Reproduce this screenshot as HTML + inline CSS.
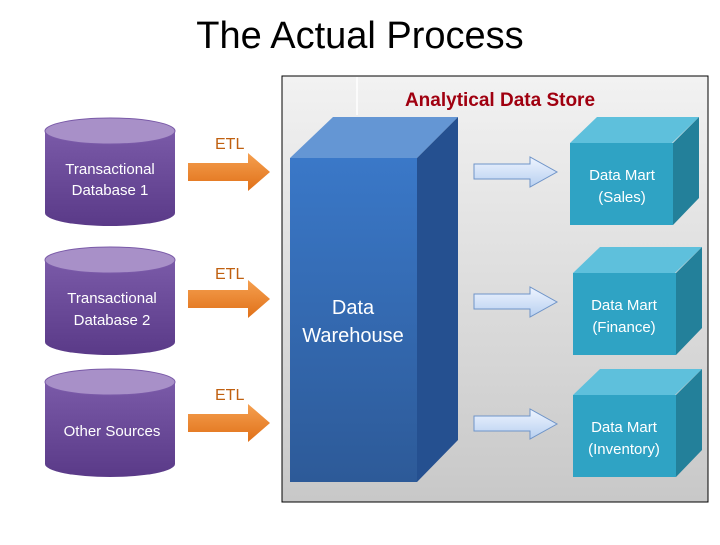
<!DOCTYPE html>
<html><head><meta charset="utf-8"><style>
body{margin:0;width:720px;height:540px;background:#fff;overflow:hidden;font-family:"Liberation Sans",sans-serif}
</style></head><body>
<svg width="720" height="540" viewBox="0 0 720 540" font-family="Liberation Sans, sans-serif">
<defs>
<linearGradient id="pg" x1="0" y1="0" x2="0" y2="1"><stop offset="0" stop-color="#f2f2f2"/><stop offset="1" stop-color="#c8c8c8"/></linearGradient>
<linearGradient id="wf" x1="0" y1="0" x2="0" y2="1"><stop offset="0" stop-color="#3a78c8"/><stop offset="1" stop-color="#2d5a98"/></linearGradient>
<linearGradient id="cy" x1="0" y1="0" x2="0" y2="1"><stop offset="0" stop-color="#7a5aa8"/><stop offset="1" stop-color="#5a3a88"/></linearGradient>
<linearGradient id="ba" x1="0" y1="0" x2="0" y2="1"><stop offset="0" stop-color="#eef4ff"/><stop offset="1" stop-color="#b8d0f0"/></linearGradient>
<linearGradient id="oa" x1="0" y1="0" x2="0" y2="1"><stop offset="0" stop-color="#f5a050"/><stop offset="1" stop-color="#e07018"/></linearGradient>
<g id="cyl"><path d="M45,13 L45,95 A65,13 0 0 0 175,95 L175,13 Z" fill="url(#cy)"/><ellipse cx="110" cy="13" rx="65" ry="13" fill="#a890c8" stroke="#7a5aa8"/></g>
<g id="mart"><polygon points="0,26 27,0 129,0 102,26" fill="#5ec0dc"/><polygon points="103,26 129,0 129,81 103,108" fill="#23809a"/><rect x="0" y="26" width="103" height="82" fill="#2fa3c4"/></g>
<g id="oarr"><polygon points="188,5 248,5 248,-5 270,14 248,33 248,23 188,23" fill="url(#oa)"/></g>
<g id="barr"><polygon points="474,7 530,7 530,0 557,15 530,30 530,22 474,22" fill="url(#ba)" stroke="#6f94c8"/></g>
</defs>
<text x="360" y="48" text-anchor="middle" font-size="38" fill="#000">The Actual Process</text>
<rect x="282" y="76" width="426" height="426" fill="url(#pg)" stroke="#000"/>
<line x1="357" y1="77" x2="357" y2="115" stroke="#fff" stroke-width="1.5"/>
<text x="500" y="106" text-anchor="middle" font-size="19" font-weight="bold" fill="#a00010">Analytical Data Store</text>
<polygon points="290,158 333,117 458,117 417,158" fill="#6496d4"/>
<polygon points="417,158 458,117 458,440 417,482" fill="#255090"/>
<rect x="290" y="158" width="127" height="324" fill="url(#wf)"/>
<text x="353" y="314" text-anchor="middle" font-size="20" fill="#fff">Data</text>
<text x="353" y="342" text-anchor="middle" font-size="20" fill="#fff">Warehouse</text>
<use href="#mart" x="570" y="117"/>
<use href="#mart" x="573" y="247"/>
<use href="#mart" x="573" y="369"/>
<g fill="#fff" font-size="15" text-anchor="middle">
<text x="622" y="180">Data Mart</text><text x="622" y="202">(Sales)</text>
<text x="624" y="310">Data Mart</text><text x="624" y="332">(Finance)</text>
<text x="624" y="432">Data Mart</text><text x="624" y="454">(Inventory)</text>
</g>
<use href="#barr" y="157"/><use href="#barr" y="287"/><use href="#barr" y="409"/>
<use href="#cyl" y="118"/><use href="#cyl" y="247"/><use href="#cyl" y="369"/>
<g fill="#fff" font-size="15" text-anchor="middle">
<text x="110" y="174">Transactional</text><text x="110" y="195">Database 1</text>
<text x="112" y="303">Transactional</text><text x="112" y="325">Database 2</text>
<text x="112" y="436">Other Sources</text>
</g>
<use href="#oarr" y="158"/><use href="#oarr" y="285"/><use href="#oarr" y="409"/>
<g fill="#c06010" font-size="16"><text x="215" y="149">ETL</text><text x="215" y="279">ETL</text><text x="215" y="400">ETL</text></g>
</svg>
</body></html>
